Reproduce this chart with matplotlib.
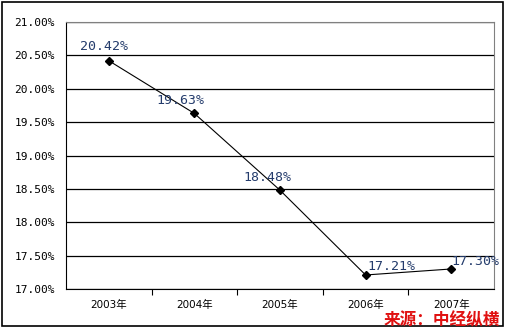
import matplotlib.pyplot as plt
from matplotlib.patches import Rectangle

plt.rcParams['font.family'] = ['DejaVu Sans Mono', 'Noto Sans CJK SC']

years = ['2003年', '2004年', '2005年', '2006年', '2007年']
rates = [20.42, 19.63, 18.48, 17.21, 17.30]
labels = ['20.42%', '19.63%', '18.48%', '17.21%', '17.30%']
y_ticks = [17.0, 17.5, 18.0, 18.5, 19.0, 19.5, 20.0, 20.5, 21.0]
source = '来源：中经纵横'

fig = plt.figure(figsize=(5.06, 3.32), dpi=100)
ax = fig.add_axes([66 / 506, 43 / 332, 428 / 506, 267 / 332])

x = list(range(len(years)))
ax.plot(x, rates, color='black', linewidth=0.8, marker='D', markersize=4,
        markerfacecolor='black', markeredgecolor='black')

# label offsets in pixels
offsets = [(-5, 14), (-14, 13), (-13, 13), (26, 8), (24, 7)]
for xi, yi, lab, off in zip(x, rates, labels, offsets):
    ax.annotate(lab, (xi, yi), xytext=(off[0] * 0.72, off[1] * 0.72),
                textcoords='offset points', ha='center', va='center',
                fontsize=9.5, color='#243c6c')

ax.set_xlim(-0.5, len(years) - 0.5)
ax.set_ylim(17.0, 21.0)
ax.set_yticks(y_ticks)
ax.set_yticklabels(['%.2f%%' % v for v in y_ticks], fontsize=8)
ax.yaxis.grid(True, color='black', linewidth=0.9)
ax.set_axisbelow(True)
ax.tick_params(axis='y', length=0, pad=8)

ax.set_xticks([i + 0.5 for i in range(len(years) - 1)], minor=False)
ax.set_xticklabels([])
ax.set_xticks(x, minor=True)
ax.set_xticklabels(years, minor=True, fontsize=7.5,
                   family=['DejaVu Sans', 'Noto Sans CJK SC'])
ax.tick_params(axis='x', which='major', length=4, direction='out', width=0.8)
ax.tick_params(axis='x', which='minor', length=0, pad=8)

for side in ['top', 'right']:
    ax.spines[side].set_color('#808080')
for side in ['left', 'bottom']:
    ax.spines[side].set_color('black')

fig.patches.append(Rectangle((2 / 506, 6 / 332), 501 / 506, 324 / 332,
                             transform=fig.transFigure, fill=False,
                             edgecolor='black', linewidth=1.2))

fig.text(500 / 506, 12 / 332, source, ha='right', va='center', fontsize=12,
         color='#e01010', fontweight='bold', style='italic',
         family=['Noto Sans CJK SC'])

fig.savefig('out.png', dpi=100)
